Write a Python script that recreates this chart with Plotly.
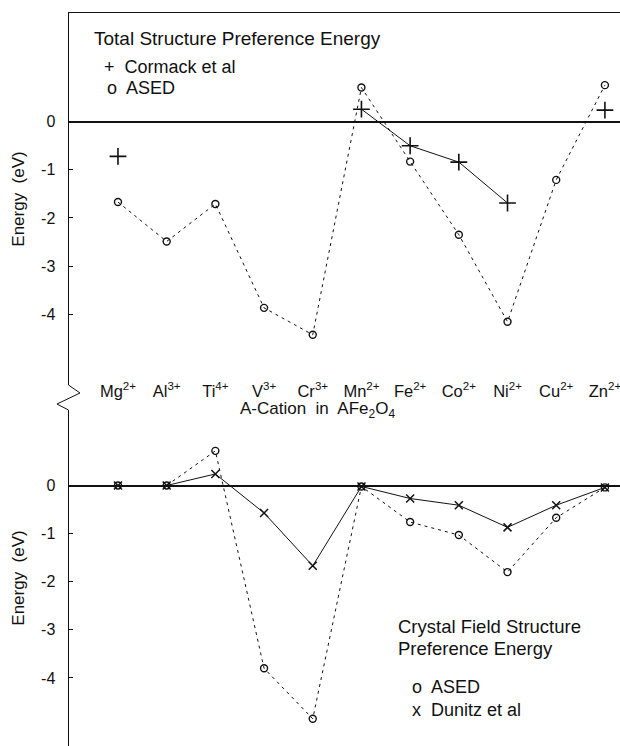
import plotly.graph_objects as go

W, H = 620, 746

cations = ["Mg<sup>2+</sup>", "Al<sup>3+</sup>", "Ti<sup>4+</sup>", "V<sup>3+</sup>", "Cr<sup>3+</sup>",
           "Mn<sup>2+</sup>", "Fe<sup>2+</sup>", "Co<sup>2+</sup>", "Ni<sup>2+</sup>", "Cu<sup>2+</sup>",
           "Zn<sup>2+</sup>"]
idx = list(range(len(cations)))

# Top panel: total structure preference energy (eV)
total_ased = [-1.67, -2.49, -1.71, -3.87, -4.43, 0.71, -0.83, -2.35, -4.16, -1.21, 0.76]
total_cormack = [-0.72, None, None, None, None, 0.26, -0.50, -0.84, -1.69, None, 0.24]

# Bottom panel: crystal field structure preference energy (eV)
cf_ased = [0.0, 0.0, 0.72, -3.80, -4.85, -0.02, -0.76, -1.03, -1.80, -0.67, -0.04]
cf_dunitz = [0.0, 0.0, 0.24, -0.57, -1.67, -0.02, -0.27, -0.41, -0.87, -0.41, -0.04]

tick_vals = [0, -1, -2, -3, -4]
tick_text = ["0", "-1", "-2", "-3", "-4"]

FONT = "Liberation Sans, Arial, sans-serif"
BLACK = "#111111"

def px(x):
    return x / W

def py(y):
    return 1 - y / H

x_range = [-1.016, 10.31]
x_dom = [px(68.5), 1.0]

fig = go.Figure()

dash_line = dict(color=BLACK, width=1, dash="3px,4px")
solid_line = dict(color=BLACK, width=1)

# top panel
fig.add_trace(go.Scatter(x=idx, y=total_ased, mode="lines+markers", line=dash_line,
                         marker=dict(symbol="circle-open", size=7, color=BLACK, line=dict(width=1.4, color=BLACK)),
                         xaxis="x", yaxis="y", name="ASED", showlegend=False))
fig.add_trace(go.Scatter(x=idx, y=total_cormack, mode="lines+markers", line=solid_line, connectgaps=False,
                         marker=dict(symbol="cross-thin-open", size=12, color=BLACK, line=dict(width=1.6, color=BLACK)),
                         xaxis="x", yaxis="y", name="Cormack et al", showlegend=False))

# bottom panel
fig.add_trace(go.Scatter(x=idx, y=cf_ased, mode="lines+markers", line=dash_line,
                         marker=dict(symbol="circle-open", size=7, color=BLACK, line=dict(width=1.4, color=BLACK)),
                         xaxis="x2", yaxis="y2", name="ASED", showlegend=False))
fig.add_trace(go.Scatter(x=idx, y=cf_dunitz, mode="lines+markers", line=solid_line,
                         marker=dict(symbol="x-thin-open", size=8, color=BLACK, line=dict(width=1.5, color=BLACK)),
                         xaxis="x2", yaxis="y2", name="Dunitz et al", showlegend=False))

# invisible trace carrying the category label axis
fig.add_trace(go.Scatter(x=idx, y=[0] * len(idx), mode="markers", marker=dict(opacity=0),
                         xaxis="x3", yaxis="y", hoverinfo="skip", showlegend=False))

scale = 48.1
top_zero, bot_zero = 121.7, 485.5
top_range = [(top_zero - 385) / scale, (top_zero - 13) / scale]
bot_range = [(bot_zero - 746) / scale, (bot_zero - 410) / scale]

yax_common = dict(tickvals=tick_vals, ticktext=tick_text, ticks="inside", ticklen=4,
                  tickcolor=BLACK, showline=True, linecolor=BLACK, linewidth=1,
                  showgrid=False, zeroline=True, zerolinecolor=BLACK, zerolinewidth=1.8,
                  tickfont=dict(family=FONT, size=16, color=BLACK), ticklabelstandoff=9,
                  title=dict(text="Energy  (eV)", font=dict(family=FONT, size=17, color=BLACK), standoff=12))

fig.update_layout(
    width=W, height=H, margin=dict(l=0, r=0, t=0, b=0),
    paper_bgcolor="white", plot_bgcolor="white",
    xaxis=dict(domain=x_dom, range=x_range, anchor="y", side="top", showline=True, linecolor=BLACK,
               linewidth=1.2, showticklabels=False, ticks="", showgrid=False, zeroline=False),
    xaxis2=dict(domain=x_dom, range=x_range, anchor="y2", showline=False, showticklabels=False,
                ticks="", showgrid=False, zeroline=False),
    xaxis3=dict(overlaying="x", anchor="free", position=py(379), range=x_range, side="bottom",
                tickvals=idx, ticktext=cations, ticks="", showline=False, showgrid=False, zeroline=False,
                ticklabeloverflow="allow",
                tickfont=dict(family=FONT, size=16.5, color=BLACK)),
    yaxis=dict(domain=[py(385), py(13)], range=top_range, anchor="x", **yax_common),
    yaxis2=dict(domain=[0, py(410)], range=bot_range, anchor="x2", **yax_common),
    showlegend=False,
)

def note(text, x, y, size=18):
    fig.add_annotation(text=text, x=px(x), y=py(y), xref="paper", yref="paper",
                       xanchor="left", yanchor="middle", showarrow=False,
                       font=dict(family=FONT, size=size, color=BLACK))

note("Total Structure Preference Energy", 92, 38, 19)
note("+  Cormack et al", 102, 67, 18)
note("o  ASED", 105, 88, 18)
note("A-Cation  in  AFe<sub>2</sub>O<sub>4</sub>", 238, 410, 17)
note("Crystal Field Structure", 396, 626, 18.5)
note("Preference Energy", 396, 648, 18.5)
note("o  ASED", 410, 687, 18)
note("x  Dunitz et al", 410, 710, 18)

# axis break zigzag
zig = [(68.5, 385), (80, 393), (57, 404), (68.5, 410)]
path = "M " + " L ".join(f"{px(a):.4f},{py(b):.4f}" for a, b in zig)
fig.add_shape(type="path", path=path, xref="paper", yref="paper", line=dict(color=BLACK, width=1))

fig.write_html("out.html")
